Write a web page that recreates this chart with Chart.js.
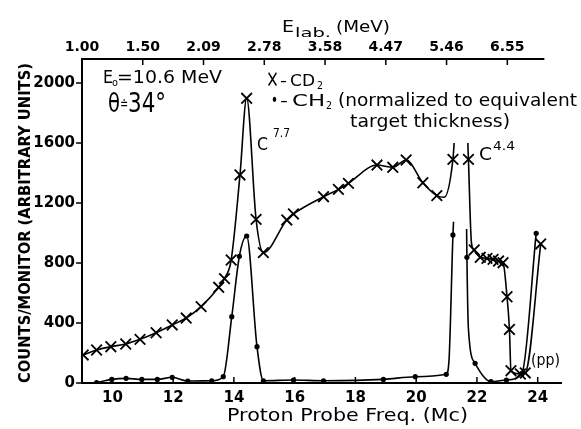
<!DOCTYPE html>
<html><head><meta charset="utf-8">
<script src="https://cdn.jsdelivr.net/npm/chart.js@4.4.0/dist/chart.umd.min.js"></script>
<style>html,body{margin:0;padding:0;background:#fff}#wrap{width:581px;height:429px}</style>
</head><body><div id="wrap"><canvas id="c" width="581" height="429"></canvas></div>
<script>
// ---- data ----
// CD2 (x markers). marker flag 1 = plotted symbol, 0 = point on the drawn curve only; null = break in curve
const cd2Freq   = [9.04,9.48,9.95,10.44,10.91,11.44,11.97,12.43,12.92,13.50,13.69,13.91,14.20,14.42,14.73,14.97,15.74,15.96,16.95,17.44,17.77,18.71,19.23,19.67,20.22,20.68,20.92,21.21,21.25,21.45,21.70,21.72,21.82,21.91,22.11,22.33,22.53,22.71,22.86,22.99,23.07,23.12,23.43,23.59,24.10];
const cd2Counts = [187,220,242,260,291,335,387,433,509,638,696,820,1387,1898,1091,869,1087,1127,1242,1291,1331,1453,1438,1487,1335,1249,1238,1491,1600,null,1600,1491,933,887,838,831,824,813,802,575,357,82,60,67,927];
const cd2Marker = [1,1,1,1,1,1,1,1,1,1,1,1,1,1,1,1,1,1,1,1,1,1,1,1,1,1,0,1,0,0,0,1,0,1,1,1,1,1,1,1,1,1,1,1,1];

// CH2 (dots)
const ch2Freq   = [9.48,9.98,10.45,10.97,11.48,11.97,12.48,13.27,13.65,13.93,14.18,14.42,14.76,14.97,15.96,16.95,18.92,19.97,20.99,21.08,21.21,21.23,21.45,21.66,21.67,21.72,21.94,22.46,22.97,23.48,23.95];
const ch2Counts = [2,24,31,24,24,38,13,15,42,442,845,980,242,15,20,15,24,42,58,150,987,1075,null,1027,838,360,131,9,20,64,998];
const ch2Marker = [1,1,1,1,1,1,1,1,1,1,1,1,1,1,1,1,1,1,1,0,1,0,0,0,1,0,1,1,1,1,1];

// axis ticks
const yTicks = [0,400,800,1200,1600,2000];
const xTicks = [10,12,14,16,18,20,22,24];
const topTickFreq   = [9,11,13,15,17,19,21,23];
const topTickLabels = ['1.00','1.50','2.09','2.78','3.58','4.47','5.46','6.55'];

const FONT = "'DejaVu Sans', sans-serif";

function pts(xs, ys){ return xs.map((x,i)=>({x:x, y:ys[i]})); }

function fitText(ctx, text, x, y, size, width, weight, align){
  ctx.save();
  ctx.font = (weight||'normal') + ' ' + size + 'px ' + FONT;
  ctx.textBaseline = 'alphabetic';
  ctx.textAlign = 'left';
  const w = ctx.measureText(text).width;
  const sx = width ? width / w : 1;
  ctx.translate(x, y);
  ctx.scale(sx, 1);
  ctx.fillStyle = '#000';
  ctx.fillText(text, align === 'center' ? -w/2 : 0, 0);
  ctx.restore();
}

const decor = {
  id: 'decor',
  beforeDraw(chart){
    const ctx = chart.ctx;
    ctx.save(); ctx.fillStyle = '#fff'; ctx.fillRect(0,0,chart.width,chart.height); ctx.restore();
  },
  afterDraw(chart){
    const ctx = chart.ctx, a = chart.chartArea;
    const xs = chart.scales.x, x2 = chart.scales.x2, ys = chart.scales.y;
    ctx.save();
    ctx.strokeStyle = '#000'; ctx.lineWidth = 2; ctx.lineCap = 'butt';
    ctx.beginPath();
    ctx.moveTo(a.left, a.top); ctx.lineTo(a.left, a.bottom);
    ctx.moveTo(a.left-1, a.bottom); ctx.lineTo(a.right, a.bottom);
    ctx.moveTo(a.left-1, a.top); ctx.lineTo(x2.getPixelForValue(24.22), a.top);
    ctx.stroke();
    ctx.lineWidth = 1.5;
    ctx.beginPath();
    yTicks.forEach(v=>{ const py = ys.getPixelForValue(v); ctx.moveTo(a.left-6, py); ctx.lineTo(a.left, py); });
    xTicks.forEach(v=>{ const px = xs.getPixelForValue(v); ctx.moveTo(px, a.bottom); ctx.lineTo(px, a.bottom-6); });
    topTickFreq.forEach(v=>{ const px = x2.getPixelForValue(v); ctx.moveTo(px, a.top); ctx.lineTo(px, a.top+6); });
    ctx.stroke();
    ctx.restore();

    // axis titles
    fitText(ctx, 'Proton Probe Freq. (Mc)', 227, 421, 18, 241);
    ctx.save(); ctx.translate(30, 223); ctx.rotate(-Math.PI/2);
    fitText(ctx, 'COUNTS/MONITOR (ARBITRARY UNITS)', 0, 0, 16, 320, 'bold', 'center');
    ctx.restore();
    fitText(ctx, 'E', 282, 32, 16, 12);
    fitText(ctx, 'lab.', 295, 37, 13, 36);
    fitText(ctx, '(MeV)', 336, 32, 16, 54);

    // annotations
    fitText(ctx, 'E', 103, 83, 18, 10);
    fitText(ctx, 'o', 112, 86, 10, 6);
    fitText(ctx, '=10.6 MeV', 117, 83, 18, 105);
    fitText(ctx, 'θ', 108, 112, 26, 12);
    fitText(ctx, '≐', 120, 109, 16, 8);
    fitText(ctx, '34°', 128, 112, 26, 38);

    fitText(ctx, '×', 266, 87, 24, 13);
    fitText(ctx, '-', 280, 86, 16, 7);
    fitText(ctx, 'CD', 290, 86, 16, 25);
    fitText(ctx, '2', 317, 89, 11, 6);
    fitText(ctx, '•', 271, 106, 18, 7);
    fitText(ctx, '-', 280, 106, 16, 8);
    fitText(ctx, 'CH', 292, 106, 16, 33);
    fitText(ctx, '2', 326, 109, 11, 6);
    fitText(ctx, '(normalized to equivalent', 338, 106, 17, 239);
    fitText(ctx, 'target thickness)', 350, 127, 17, 160);

    fitText(ctx, 'C', 257, 150, 18, 11);
    fitText(ctx, '7.7', 273, 137, 12, 17);
    fitText(ctx, 'C', 479, 160, 18, 13);
    fitText(ctx, '4.4', 493, 150, 13, 22);
    fitText(ctx, '(pp)', 531, 365, 16, 29);
  }
};

const common = {
  showLine: true,
  borderColor: '#000',
  borderWidth: 1.6,
  cubicInterpolationMode: 'monotone',
  spanGaps: false,
  pointBorderColor: '#000',
  pointBackgroundColor: '#000',
  pointHoverRadius: 0
};

new Chart(document.getElementById('c'), {
  type: 'scatter',
  data: {
    datasets: [
      Object.assign({}, common, {
        label: 'CD2',
        data: pts(cd2Freq, cd2Counts),
        pointStyle: 'crossRot',
        pointRadius: ctx => cd2Marker[ctx.dataIndex] ? 7.5 : 0,
        pointBorderWidth: 1.8
      }),
      Object.assign({}, common, {
        label: 'CH2',
        data: pts(ch2Freq, ch2Counts),
        pointStyle: 'circle',
        pointRadius: ctx => ch2Marker[ctx.dataIndex] ? 2.6 : 0,
        pointBorderWidth: 0
      })
    ]
  },
  options: {
    responsive: false,
    animation: false,
    devicePixelRatio: 1,
    layout: { padding: { left: 0, right: 19, top: 0, bottom: 0 } },
    plugins: { legend: { display: false }, tooltip: { enabled: false } },
    events: [],
    scales: {
      x: {
        type: 'linear', position: 'bottom', min: 9, max: 24.8,
        afterBuildTicks: s => { s.ticks = xTicks.map(v => ({ value: v })); },
        afterFit: s => { s.height = 46; },
        grid: { display: false, drawTicks: false },
        border: { display: false },
        ticks: { color: '#000', font: { family: FONT, size: 15, weight: 'bold' }, padding: 6, maxRotation: 0, autoSkip: false,
                 callback: v => String(v) }
      },
      x2: {
        type: 'linear', position: 'top', min: 9, max: 24.8,
        afterBuildTicks: s => { s.ticks = topTickFreq.map(v => ({ value: v })); },
        afterFit: s => { s.height = 59; },
        grid: { display: false, drawTicks: false },
        border: { display: false },
        ticks: { color: '#000', font: { family: FONT, size: 14, weight: 'bold' }, padding: 3, maxRotation: 0, autoSkip: false,
                 callback: (v, i) => topTickLabels[i] }
      },
      y: {
        type: 'linear', position: 'left', min: 0, max: 2160,
        afterBuildTicks: s => { s.ticks = yTicks.map(v => ({ value: v })); },
        afterFit: s => { s.width = 82; },
        grid: { display: false, drawTicks: false },
        border: { display: false },
        ticks: { color: '#000', font: { family: FONT, size: 15, weight: 'bold' }, padding: 7, autoSkip: false,
                 callback: v => String(v) }
      }
    }
  },
  plugins: [decor]
});
</script>
</body></html>
